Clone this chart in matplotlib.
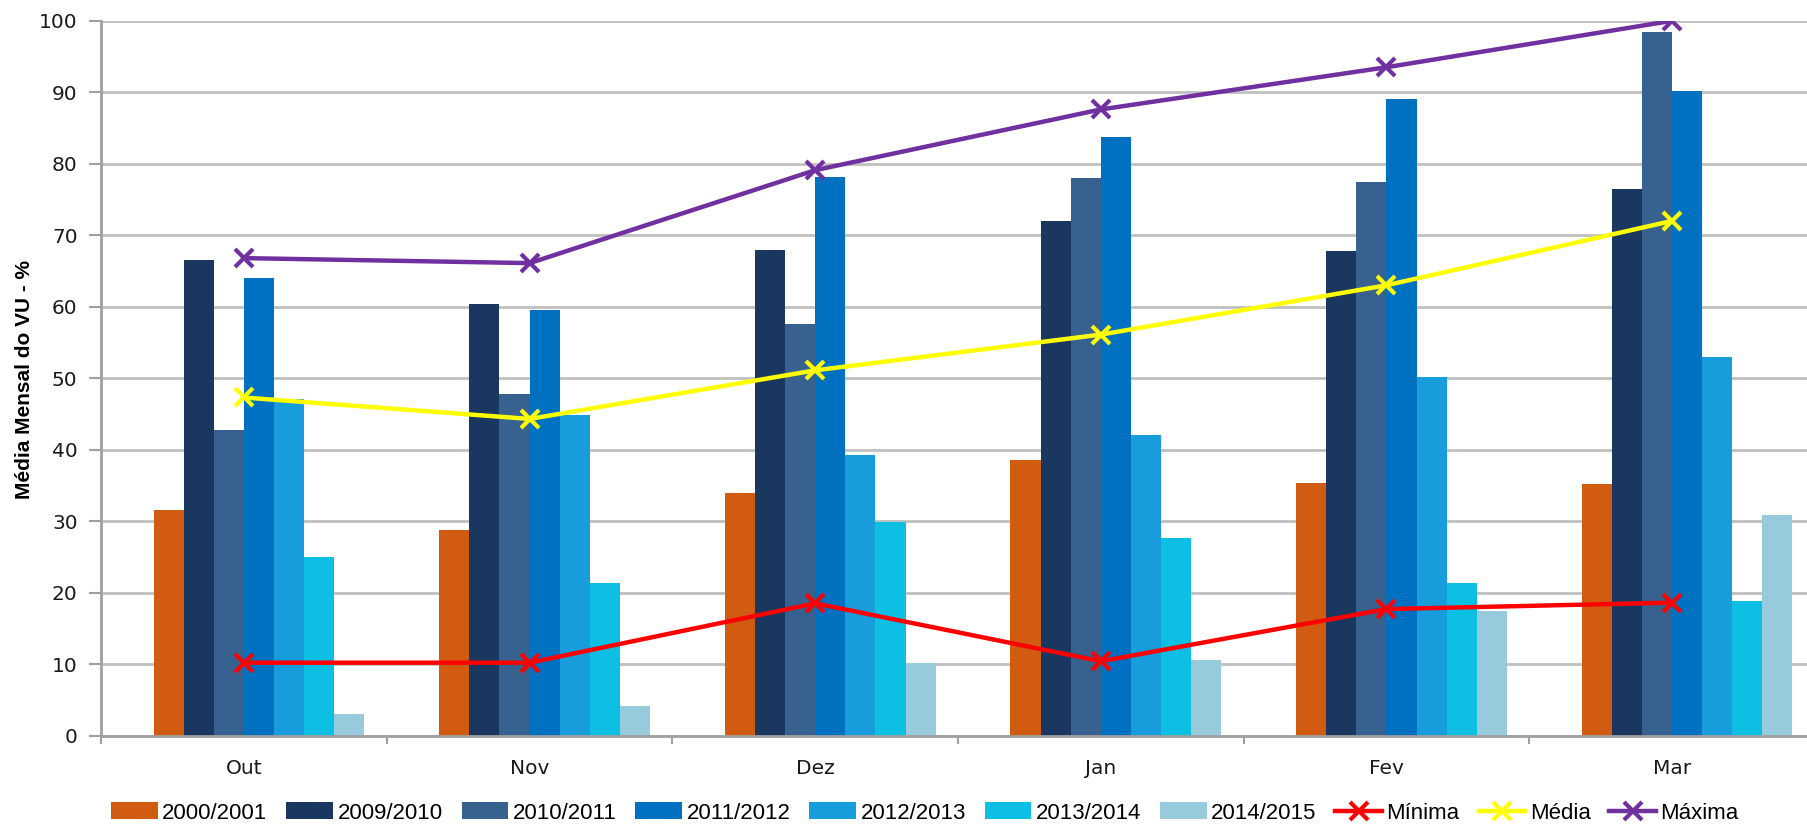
import numpy as np
import matplotlib
matplotlib.use("Agg")
import matplotlib.pyplot as plt

months = ["Out", "Nov", "Dez", "Jan", "Fev", "Mar"]

seasons = ["2000/2001", "2009/2010", "2010/2011", "2011/2012",
           "2012/2013", "2013/2014", "2014/2015"]
s2000_2001 = [31.6, 28.8, 33.9, 38.5, 35.4, 35.2]
s2009_2010 = [66.5, 60.4, 68.0, 72.0, 67.8, 76.4]
s2010_2011 = [42.7, 47.8, 57.6, 78.0, 77.4, 98.4]
s2011_2012 = [64.0, 59.6, 78.2, 83.8, 89.1, 90.2]
s2012_2013 = [47.1, 44.8, 39.2, 42.0, 50.2, 53.0]
s2013_2014 = [25.0, 21.4, 29.9, 27.6, 21.4, 18.9]
s2014_2015 = [3.0, 4.2, 10.1, 10.6, 17.5, 30.8]

minima = [10.2, 10.2, 18.5, 10.4, 17.7, 18.6]
media = [47.3, 44.3, 51.1, 56.1, 63.0, 72.0]
maxima = [66.8, 66.1, 79.1, 87.6, 93.5, 100.0]

bar_series = [s2000_2001, s2009_2010, s2010_2011, s2011_2012,
              s2012_2013, s2013_2014, s2014_2015]
bar_colors = ["#D25B12", "#1A3760", "#37618F", "#0070C0",
              "#179CDC", "#0DC0E3", "#96CADC"]

fig = plt.figure(figsize=(18.08, 8.26), dpi=100)
ax = fig.add_axes([101.2 / 1808, 1 - 735.6 / 826, 1713.6 / 1808, (735.6 - 20.8) / 826])

x = np.arange(len(months))
w = 0.1054
handles = []
# Excel group has 8 slots, the first one empty
for i, (vals, col) in enumerate(zip(bar_series, bar_colors)):
    h = ax.bar(x + (i - 2.5) * w, vals, width=w, color=col, label=seasons[i], zorder=2)
    handles.append(h)

lw = 3.2
for vals, col, name in [(minima, "#FF0000", "Mínima"),
                        (media, "#FFFF00", "Média"),
                        (maxima, "#7030A0", "Máxima")]:
    h, = ax.plot(x, vals, color=col, marker="x", ms=13, mew=3, lw=lw, label=name, zorder=3)
    handles.append(h)

ax.set_xlim(-0.5, len(months) - 0.5)
ax.set_ylim(0, 100)
ax.set_yticks(range(0, 101, 10))
ax.set_xticks(x)
ax.set_xticklabels(months)
ax.set_xticks(np.arange(-0.5, len(months)), minor=True)
ax.tick_params(axis="x", which="major", length=0, pad=17, labelsize=14.5, labelcolor="#1a1a1a")
ax.tick_params(axis="x", which="minor", length=6, color="#a0a0a0", width=1.5)
ax.tick_params(axis="y", length=9, color="#a0a0a0", width=1.5, labelsize=14.5, pad=8,
               labelcolor="#1a1a1a")
ax.grid(axis="y", color="#c0c0c0", lw=2, zorder=0)
ax.set_axisbelow(True)
for side in ["top", "right"]:
    ax.spines[side].set_visible(False)
for side in ["left", "bottom"]:
    ax.spines[side].set_color("#a0a0a0")
    ax.spines[side].set_linewidth(2)

fig.text(25 / 1808, 0.54, "Média Mensal do VU - %", rotation=90, ha="center", va="center",
         fontsize=15, fontweight="bold", family="Liberation Sans")

fig.legend(handles=handles, loc="center", bbox_to_anchor=(925 / 1808, 1 - 813 / 826), ncol=10,
           frameon=False, prop={"family": "Liberation Sans", "size": 16},
           handlelength=2.1, handleheight=0.8, handletextpad=0.2, columnspacing=0.85)

fig.savefig("out.png", dpi=100)
